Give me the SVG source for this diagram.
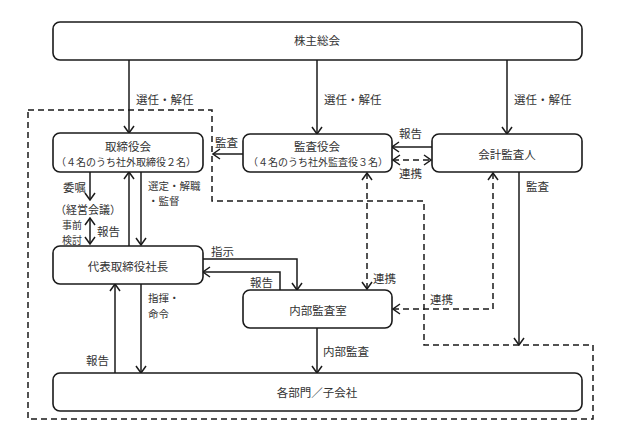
<svg xmlns="http://www.w3.org/2000/svg" width="619" height="432" viewBox="0 0 619 432">
<style>
.box{fill:#fff;stroke:#1a1a1a;stroke-width:1.6}
.ln{fill:none;stroke:#1a1a1a;stroke-width:1.5}
.ds{fill:none;stroke:#1a1a1a;stroke-width:1.5;stroke-dasharray:6 4}
text{font-family:"Noto Sans CJK JP","Noto Sans",sans-serif;font-size:11.5px;fill:#333}
.c{text-anchor:middle}
.s{font-size:10px}
.m{font-size:10.5px}
</style>
<defs>
<marker id="a" viewBox="-9 -6 10 12" markerWidth="10" markerHeight="12" refX="0" refY="0" markerUnits="userSpaceOnUse" orient="auto-start-reverse">
<path d="M-7,-5 L0,0 L-7,5" fill="none" stroke="#1a1a1a" stroke-width="1.5"/>
</marker>
</defs>
<rect width="619" height="432" fill="#fff"/>
<g id="boundary">
<path class="ds" d="M28,110 H212 V201 H424 V345 H593 V419 H28 Z"/>
</g>
<g id="connectors">
<line class="ln" x1="129" y1="60" x2="129" y2="133" marker-end="url(#a)"/>
<line class="ln" x1="317" y1="60" x2="317" y2="134" marker-end="url(#a)"/>
<line class="ln" x1="507" y1="60" x2="507" y2="134" marker-end="url(#a)"/>
<line class="ln" x1="243" y1="154" x2="213" y2="154" marker-end="url(#a)"/>
<line class="ln" x1="432" y1="147" x2="392" y2="147" marker-end="url(#a)"/>
<line class="ds" x1="393" y1="160" x2="431" y2="160" marker-start="url(#a)" marker-end="url(#a)"/>
<line class="ln" x1="90" y1="172" x2="90" y2="200" marker-end="url(#a)"/>
<line class="ln" x1="90" y1="218" x2="90" y2="244" marker-start="url(#a)" marker-end="url(#a)"/>
<line class="ln" x1="129" y1="246" x2="129" y2="172" marker-end="url(#a)"/>
<line class="ln" x1="141" y1="172" x2="141" y2="245" marker-end="url(#a)"/>
<path class="ln" d="M203,259 H297 V290" marker-end="url(#a)"/>
<path class="ln" d="M280,290 V272 H203" marker-end="url(#a)"/>
<line class="ds" x1="367" y1="173" x2="367" y2="289" marker-start="url(#a)" marker-end="url(#a)"/>
<path class="ds" d="M493,173 V309 H393" marker-start="url(#a)" marker-end="url(#a)"/>
<line class="ln" x1="519" y1="172" x2="519" y2="345" marker-end="url(#a)"/>
<line class="ln" x1="115" y1="373" x2="115" y2="284" marker-end="url(#a)"/>
<line class="ln" x1="141" y1="284" x2="141" y2="373" marker-end="url(#a)"/>
<line class="ln" x1="317" y1="328" x2="317" y2="373" marker-end="url(#a)"/>
<text x="136" y="104">選任・解任</text>
<text x="324" y="104">選任・解任</text>
<text x="514" y="104">選任・解任</text>
<text x="215" y="147">監査</text>
<text x="399" y="138">報告</text>
<text x="399" y="178">連携</text>
<text x="63" y="192">委嘱</text>
<text class="s" x="62" y="228.5">事前</text>
<text class="s" x="62" y="243.5">検討</text>
<text x="97" y="236">報告</text>
<text class="m" x="148" y="189.5">選定・解職</text>
<text class="m" x="148" y="205">・監督</text>
<text x="526" y="191">監査</text>
<text x="211" y="256">指示</text>
<text x="250" y="287">報告</text>
<text x="373" y="283">連携</text>
<text x="430" y="304">連携</text>
<text class="m" x="148" y="302">指揮・</text>
<text class="m" x="148" y="317.5">命令</text>
<text x="86" y="365">報告</text>
<text x="323" y="356">内部監査</text>
<text class="c" x="88" y="213.5" style="font-size:11px">（経営会議）</text>
</g>
<g id="n1"><rect class="box" x="53" y="22" width="529" height="38" rx="7"/><text class="c" x="317" y="45">株主総会</text></g>
<g id="n2"><rect class="box" x="53" y="133" width="150" height="39" rx="7"/><text class="c" x="128" y="151">取締役会</text><text class="c s" x="126" y="166">（４名のうち社外取締役２名）</text></g>
<g id="n3"><rect class="box" x="243" y="134" width="149" height="38" rx="7"/><text class="c" x="317" y="151">監査役会</text><text class="c s" x="318" y="166">（４名のうち社外監査役３名）</text></g>
<g id="n4"><rect class="box" x="432" y="134" width="150" height="38" rx="7"/><text class="c" x="507" y="159">会計監査人</text></g>
<g id="n5"><rect class="box" x="53" y="246" width="150" height="38" rx="7"/><text class="c" x="128" y="271">代表取締役社長</text></g>
<g id="n6"><rect class="box" x="243" y="290" width="149" height="38" rx="7"/><text class="c" x="318" y="315">内部監査室</text></g>
<g id="n7"><rect class="box" x="53" y="373" width="529" height="38" rx="7"/><text class="c" x="317" y="397">各部門／子会社</text></g>
</svg>
